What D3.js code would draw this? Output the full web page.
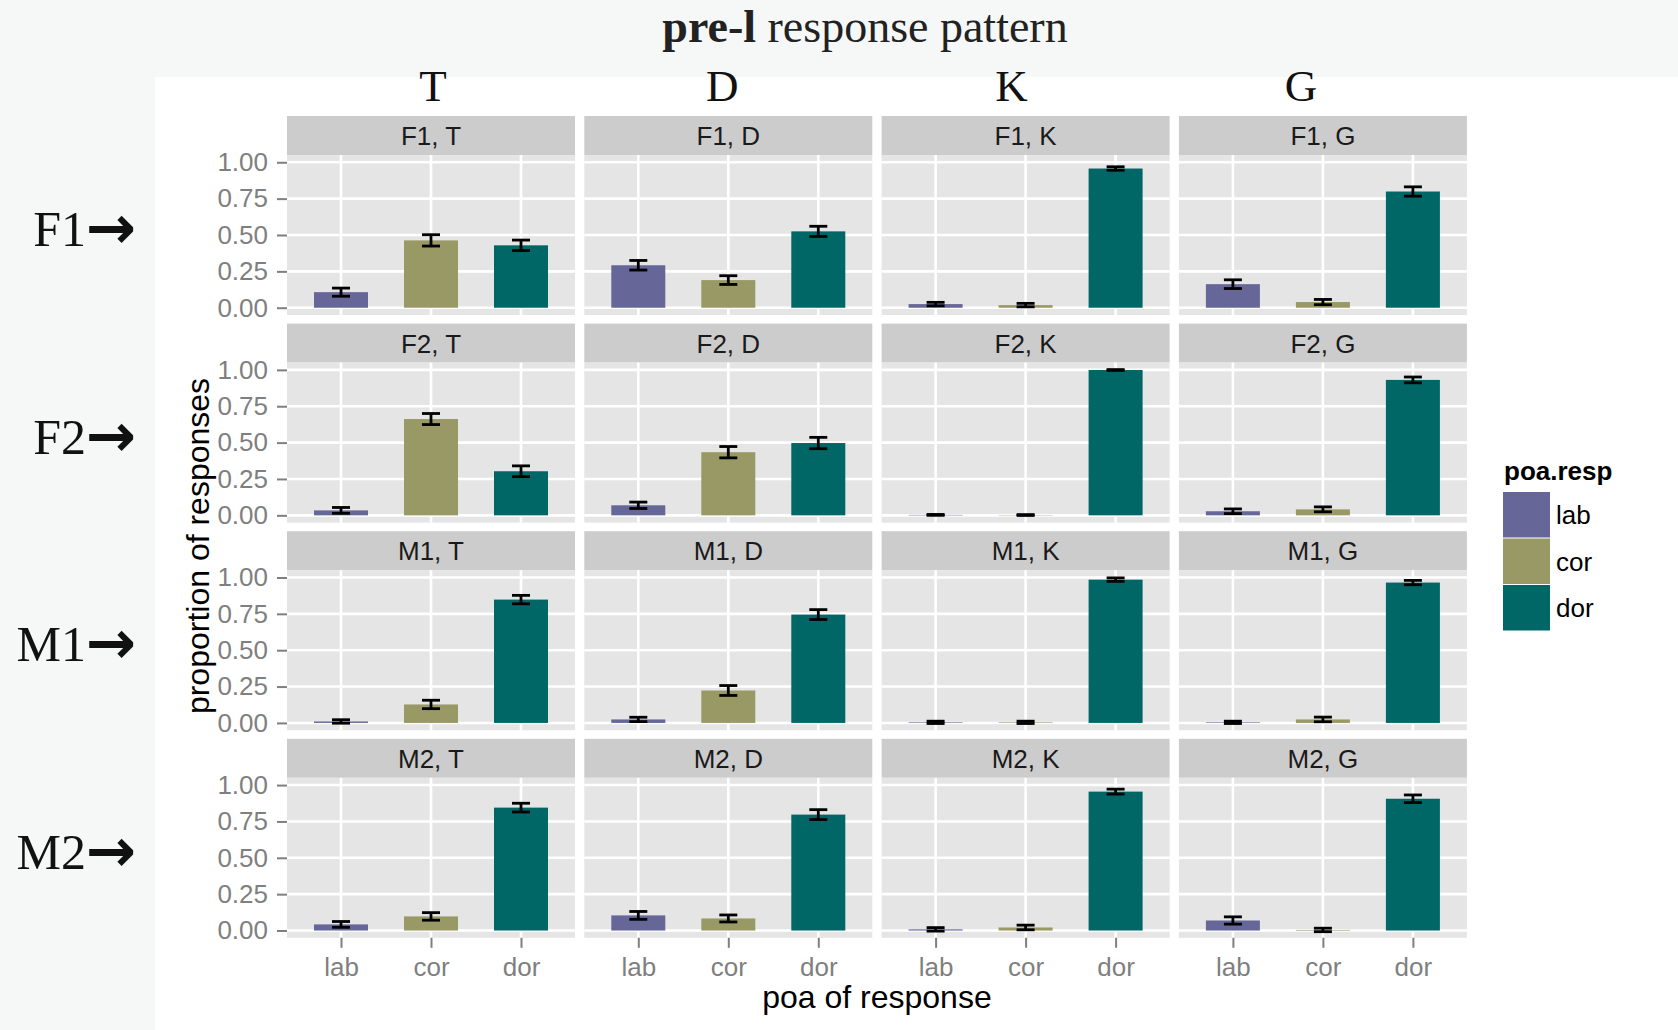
<!DOCTYPE html>
<html>
<head>
<meta charset="utf-8">
<script src="https://cdnjs.cloudflare.com/ajax/libs/d3/7.8.5/d3.min.js"></script>
<style>
  body { margin: 0; padding: 0; background: #f6f8f7; }
  svg { display: block; }
  .sans { font-family: "Liberation Sans", Arial, Helvetica, sans-serif; }
  .serif { font-family: "Liberation Serif", "Times New Roman", serif; }
</style>
</head>
<body>
<div id="chart"></div>
<script>
// facet labels
const places = ['T', 'D', 'K', 'G'];          // columns
const talkers = ['F1', 'F2', 'M1', 'M2'];     // rows
const categories = ['lab', 'cor', 'dor'];      // x axis / fill
const fillColors = ['#666699', '#999966', '#006666'];
const yTicks = [0, 0.25, 0.5, 0.75, 1.0];

// mean proportion per place (T, D, K, G) for lab, cor, dor
const meanF1 = [[0.107, 0.463, 0.429], [0.292, 0.190, 0.525], [0.025, 0.018, 0.957], [0.162, 0.039, 0.799]];
const meanF2 = [[0.034, 0.662, 0.303], [0.069, 0.434, 0.497], [0.003, 0.002, 0.999], [0.028, 0.041, 0.931]];
const meanM1 = [[0.010, 0.127, 0.848], [0.024, 0.223, 0.745], [0.004, 0.004, 0.985], [0.004, 0.024, 0.965]];
const meanM2 = [[0.042, 0.097, 0.845], [0.104, 0.083, 0.797], [0.008, 0.021, 0.955], [0.069, 0.004, 0.906]];

// standard error (half width of error bars)
const seF1 = [[0.028, 0.039, 0.036], [0.033, 0.030, 0.035], [0.012, 0.012, 0.012], [0.030, 0.018, 0.032]];
const seF2 = [[0.020, 0.038, 0.037], [0.022, 0.039, 0.039], [0.003, 0.003, 0.003], [0.016, 0.017, 0.020]];
const seM1 = [[0.012, 0.029, 0.029], [0.015, 0.034, 0.034], [0.008, 0.008, 0.012], [0.008, 0.016, 0.015]];
const seM2 = [[0.020, 0.026, 0.030], [0.027, 0.024, 0.034], [0.012, 0.016, 0.017], [0.025, 0.012, 0.026]];

const meanRows = [meanF1, meanF2, meanM1, meanM2];
const seRows = [seF1, seF2, seM1, seM2];

// layout
const W = 1678, H = 1030;
const panelLeft = 287, panelW = 288, colStep = 297.3;
const gridTop = 116, stripH = 39, panelH = 160, rowStep = 207.6;
const tickFont = 26, axisGrey = '#7f7f7f';

const svg = d3.select('#chart').append('svg')
    .attr('width', W)
    .attr('height', H);

// backgrounds: light band on top/left, white plot area
svg.append('rect').attr('width', W).attr('height', H).attr('fill', '#f6f8f7');
svg.append('rect').attr('x', 155).attr('y', 77).attr('width', W - 155).attr('height', H - 77).attr('fill', '#ffffff');

// title
let title = svg.append('text')
    .attr('class', 'serif')
    .attr('x', 865)
    .attr('y', 42)
    .attr('text-anchor', 'middle')
    .style('font-size', '46px')
    .attr('fill', '#222');
title.append('tspan').attr('font-weight', 'bold').text('pre-l');
title.append('tspan').text(' response pattern');

// scales shared by all panels
let x = d3.scalePoint()
    .domain(categories)
    .range([0, panelW])
    .padding(0.6);
let step = x.step();
let y = d3.scaleLinear()
    .domain([-0.05, 1.05])
    .range([panelH, 0]);
let color = d3.scaleOrdinal().domain(categories).range(fillColors);

// column headers (placed a little tighter than the panels, as in the original)
places.forEach(function(p, c) {
    svg.append('text')
        .attr('class', 'serif')
        .attr('x', 433 + c * 289.3)
        .attr('y', 101)
        .attr('text-anchor', 'middle')
        .style('font-size', '45px')
        .attr('fill', '#111')
        .text(p);
});

// row labels with arrows
talkers.forEach(function(t, r) {
    let cy = gridTop + r * rowStep + stripH + panelH / 2;
    svg.append('text')
        .attr('class', 'serif')
        .attr('x', 86)
        .attr('y', cy + 11)
        .attr('text-anchor', 'end')
        .style('font-size', '50px')
        .attr('fill', '#111')
        .text(t);
    svg.append('text')
        .attr('x', 86)
        .attr('y', cy + 13)
        .style('font-family', '"DejaVu Sans", sans-serif')
        .style('font-weight', 'bold')
        .style('font-size', '60px')
        .attr('fill', '#111')
        .text('\u2192');
});

// panels
talkers.forEach(function(t, r) {
    places.forEach(function(p, c) {
        let ox = panelLeft + c * colStep;
        let oy = gridTop + r * rowStep;
        let g = svg.append('g').attr('transform', 'translate(' + ox + ',' + oy + ')');

        // strip
        g.append('rect')
            .attr('width', panelW)
            .attr('height', stripH)
            .attr('fill', '#cccccc');
        g.append('text')
            .attr('class', 'sans')
            .attr('x', panelW / 2)
            .attr('y', 29)
            .attr('text-anchor', 'middle')
            .style('font-size', tickFont + 'px')
            .attr('fill', '#1a1a1a')
            .text(t + ', ' + p);

        let pg = g.append('g').attr('transform', 'translate(0,' + stripH + ')');
        pg.append('rect')
            .attr('width', panelW)
            .attr('height', panelH)
            .attr('fill', '#e5e5e5');

        // grid
        pg.selectAll('.hgrid')
            .data(yTicks)
          .enter().append('line')
            .attr('x1', 0).attr('x2', panelW)
            .attr('y1', function(d) { return y(d); })
            .attr('y2', function(d) { return y(d); })
            .attr('stroke', '#ffffff')
            .attr('stroke-width', 2.6);
        pg.selectAll('.vgrid')
            .data(categories)
          .enter().append('line')
            .attr('x1', function(d) { return x(d); })
            .attr('x2', function(d) { return x(d); })
            .attr('y1', 0).attr('y2', panelH)
            .attr('stroke', '#ffffff')
            .attr('stroke-width', 2.6);

        let vals = categories.map(function(cat, i) {
            return { cat: cat, mean: meanRows[r][c][i], se: seRows[r][c][i] };
        });

        // bars
        pg.selectAll('.bar')
            .data(vals)
          .enter().append('rect')
            .attr('x', function(d) { return x(d.cat) - step * 0.3; })
            .attr('width', step * 0.6)
            .attr('y', function(d) { return y(d.mean); })
            .attr('height', function(d) { return y(0) - y(d.mean); })
            .attr('fill', function(d) { return color(d.cat); });

        // error bars
        let eb = pg.selectAll('.err')
            .data(vals)
          .enter().append('g')
            .attr('stroke', '#000')
            .attr('stroke-width', 2.8);
        eb.append('line')
            .attr('x1', function(d) { return x(d.cat); })
            .attr('x2', function(d) { return x(d.cat); })
            .attr('y1', function(d) { return y(d.mean - d.se); })
            .attr('y2', function(d) { return y(d.mean + d.se); });
        eb.append('line')
            .attr('x1', function(d) { return x(d.cat) - step * 0.1; })
            .attr('x2', function(d) { return x(d.cat) + step * 0.1; })
            .attr('y1', function(d) { return y(d.mean + d.se); })
            .attr('y2', function(d) { return y(d.mean + d.se); });
        eb.append('line')
            .attr('x1', function(d) { return x(d.cat) - step * 0.1; })
            .attr('x2', function(d) { return x(d.cat) + step * 0.1; })
            .attr('y1', function(d) { return y(d.mean - d.se); })
            .attr('y2', function(d) { return y(d.mean - d.se); });

        // y axis on first column
        if (c == 0) {
            let ya = pg.append('g')
                .attr('class', 'sans')
                .call(d3.axisLeft(y).tickValues(yTicks).tickFormat(d3.format('.2f')).tickSize(10).tickPadding(9));
            ya.select('.domain').remove();
            ya.selectAll('.tick line').attr('stroke', axisGrey).attr('stroke-width', 2);
            ya.selectAll('.tick text')
                .attr('fill', axisGrey)
                .style('font-size', tickFont + 'px')
                .style('font-family', '"Liberation Sans", Arial, sans-serif');
        }
        // x axis on last row
        if (r == talkers.length - 1) {
            let xa = pg.append('g')
                .attr('transform', 'translate(0,' + panelH + ')')
                .call(d3.axisBottom(x).tickSize(10).tickPadding(10));
            xa.select('.domain').remove();
            xa.selectAll('.tick line').attr('stroke', axisGrey).attr('stroke-width', 2);
            xa.selectAll('.tick text')
                .attr('fill', axisGrey)
                .style('font-size', tickFont + 'px')
                .style('font-family', '"Liberation Sans", Arial, sans-serif');
        }
    });
});

// axis titles
svg.append('text')
    .attr('class', 'sans')
    .attr('x', panelLeft + (3 * colStep + panelW) / 2)
    .attr('y', 1008)
    .attr('text-anchor', 'middle')
    .style('font-size', '32px')
    .attr('fill', '#000')
    .text('poa of response');

svg.append('text')
    .attr('class', 'sans')
    .attr('transform', 'translate(209,546) rotate(-90)')
    .attr('text-anchor', 'middle')
    .style('font-size', '32px')
    .attr('fill', '#000')
    .text('proportion of responses');

// legend
let legend = svg.append('g').attr('transform', 'translate(1503,0)');
legend.append('text')
    .attr('class', 'sans')
    .attr('x', 1)
    .attr('y', 480)
    .attr('font-weight', 'bold')
    .style('font-size', '26px')
    .attr('fill', '#000')
    .text('poa.resp');
let items = legend.selectAll('.item')
    .data(categories)
  .enter().append('g')
    .attr('transform', function(d, i) { return 'translate(0,' + (492 + i * 46.5) + ')'; });
items.append('rect')
    .attr('width', 47)
    .attr('height', 45.5)
    .attr('fill', function(d) { return color(d); });
items.append('text')
    .attr('class', 'sans')
    .attr('x', 53)
    .attr('y', 23)
    .attr('dy', '0.35em')
    .style('font-size', '26px')
    .attr('fill', '#000')
    .text(function(d) { return d; });
</script>
</body>
</html>
